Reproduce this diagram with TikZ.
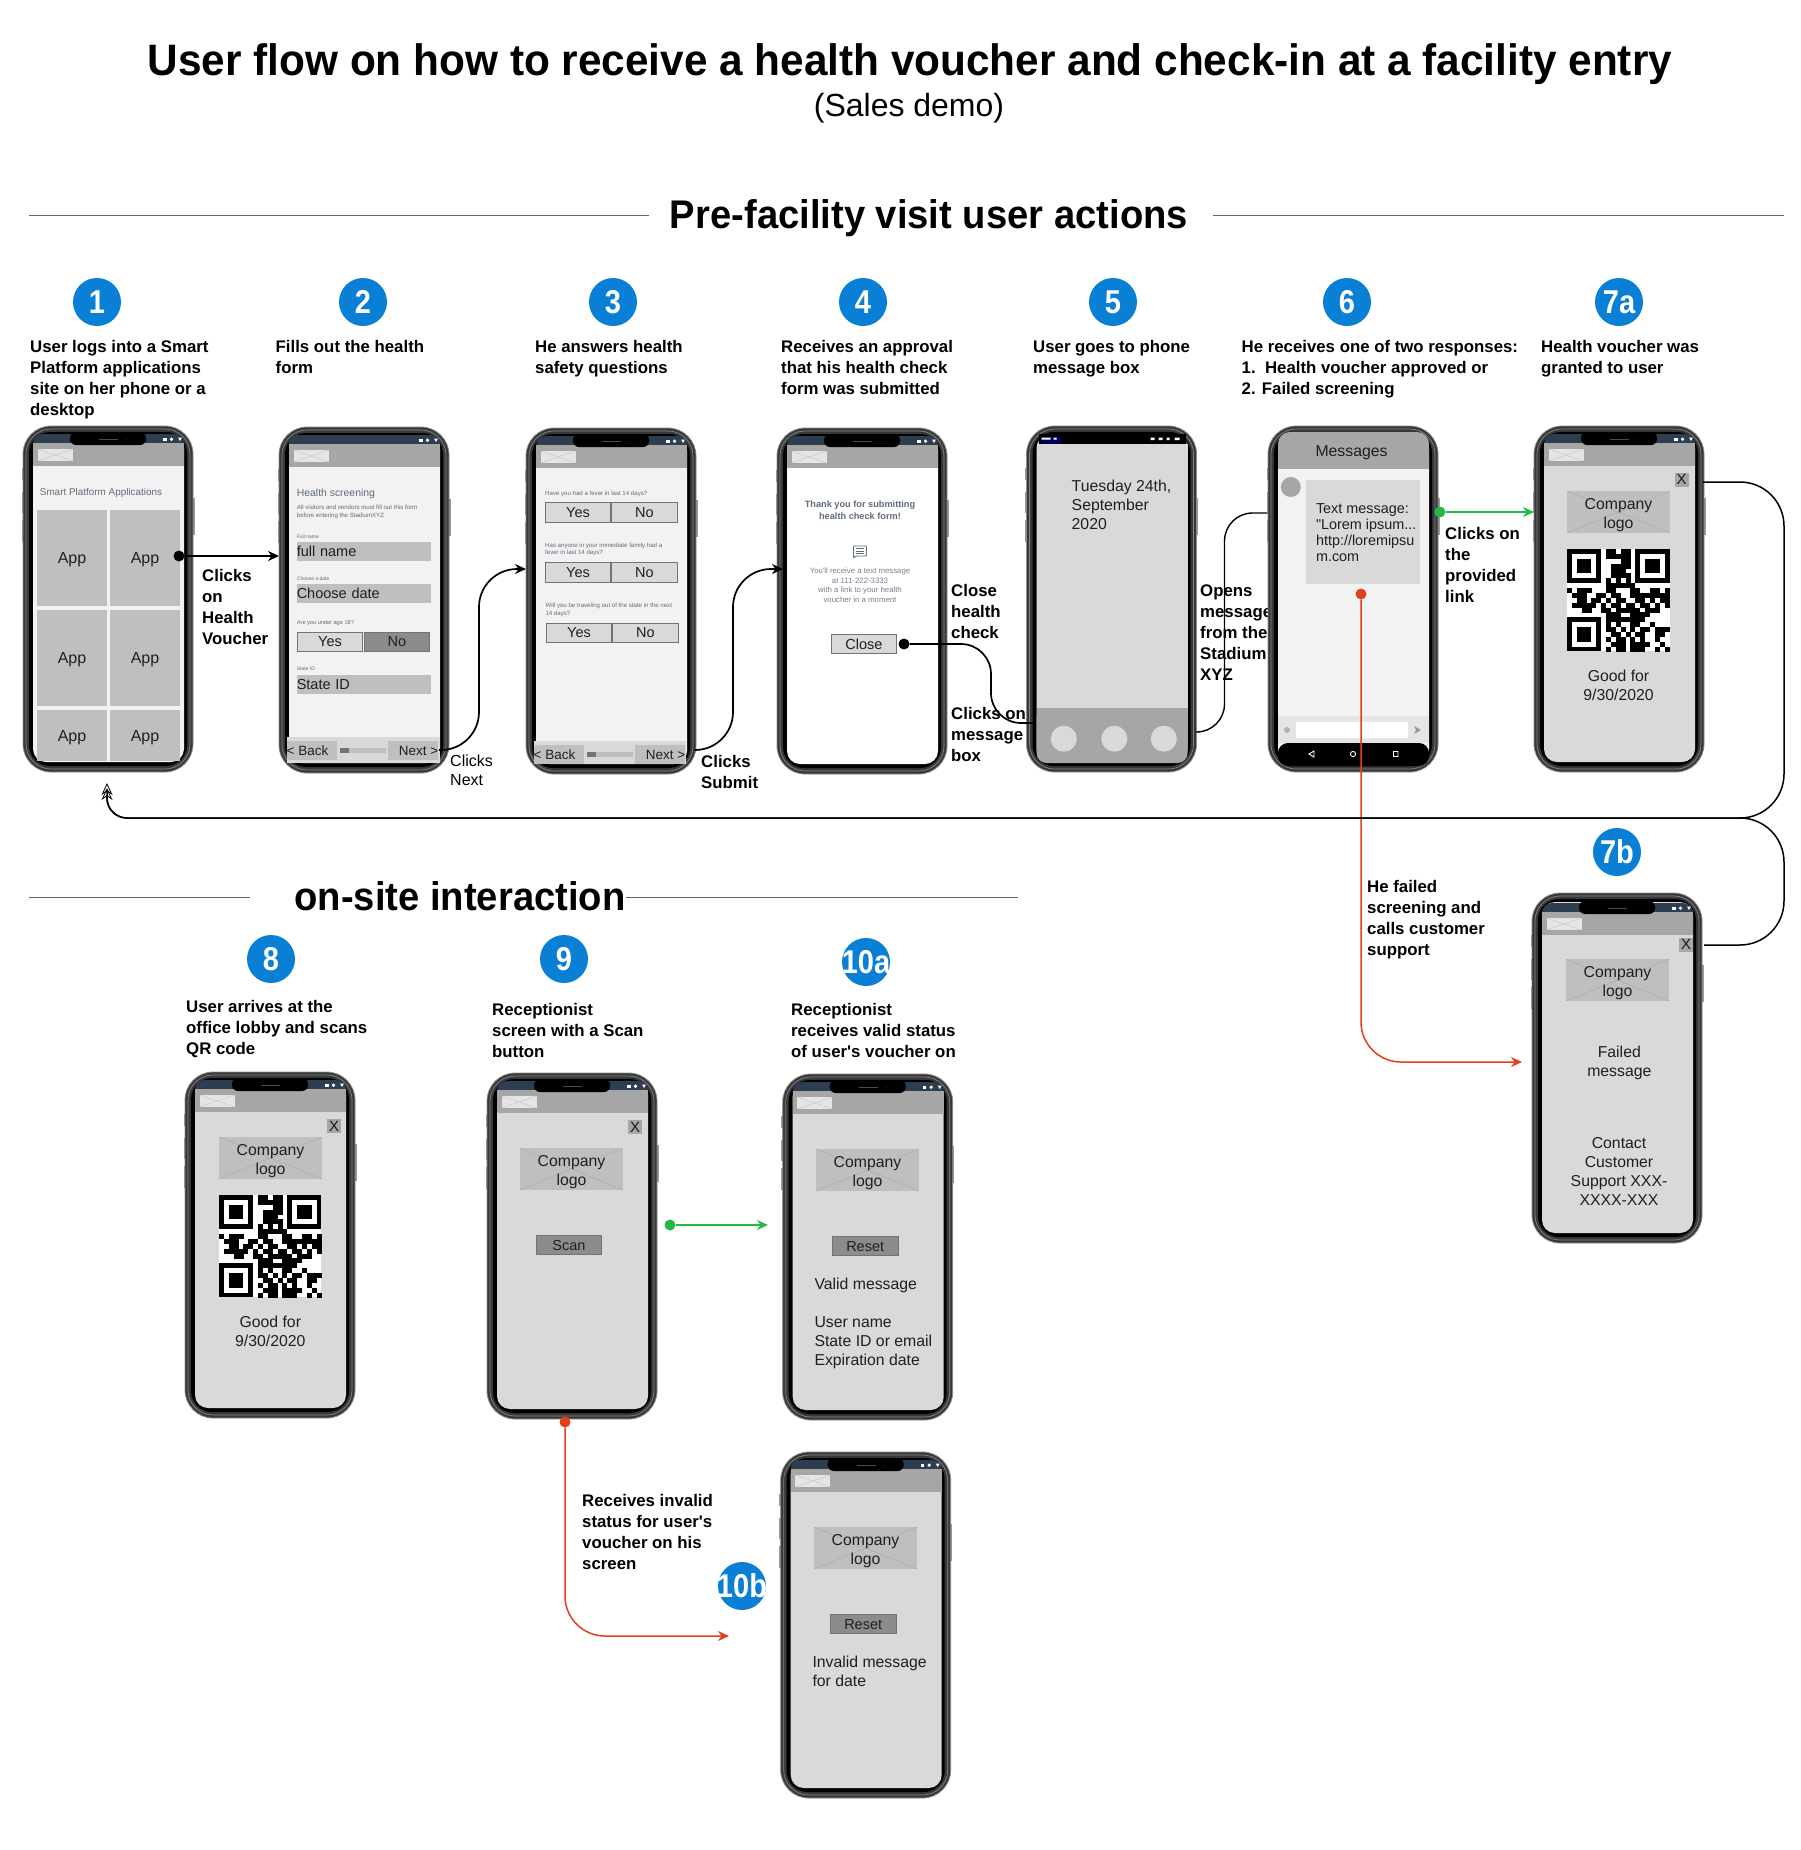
\documentclass[tikz,border=0pt]{standalone}
\usepackage{fontspec}
\setmainfont{Liberation Sans}
\usetikzlibrary{arrows.meta}
\definecolor{stepblue}{HTML}{0A7FD6}
\definecolor{hdrgray}{HTML}{A6A6A6}
\definecolor{scrgray}{HTML}{D9D9D9}
\definecolor{scrlight}{HTML}{F2F2F2}
\definecolor{tilegray}{HTML}{BFBFBF}
\definecolor{btndark}{HTML}{8C8C8C}
\definecolor{barblue}{HTML}{2D3E50}
\definecolor{slate}{HTML}{5F6B7A}
\definecolor{okgreen}{HTML}{1FBB45}
\definecolor{badred}{HTML}{E0401F}
\definecolor{ruleline}{HTML}{666666}
\tikzset{
  phonebody/.style={rectangle,rounded corners=28,draw=black!45,fill=black!78,line width=.8,minimum width=170,inner sep=0,outer sep=0},
  sidebtn/.style={fill=black!40},
  flowline/.style={line width=1.7,draw=black},
  flowdot/.style={circle,fill=#1,inner sep=0,minimum size=11},
  flowdot/.default=black,
  grnline/.style={line width=1.6,draw=okgreen},
  redline/.style={line width=1.5,draw=badred},
  stepdot/.style={circle,fill=stepblue,text=white,inner sep=0,minimum size=48,font=\fontsize{33}{33}\selectfont\bfseries},
  headtxt/.style={inner sep=0,xscale=.955,transform shape,font=\fontsize{40}{40}\selectfont\bfseries},
  lbl/.style={anchor=north west,align=left,inner sep=0,yshift=-2pt,font=\fontsize{16.8}{21}\selectfont\bfseries,execute at begin node={\strut}},
  scrtxt/.style={anchor=north,align=center,inner sep=0,yshift=-2.5pt,text=black!88,font=\fontsize{15.8}{19}\selectfont,execute at begin node={\strut}},
  scrleft/.style={scrtxt,anchor=north west,align=left},
  tiny/.style 2 args={anchor=north west,align=left,inner sep=0,yshift=-2pt,text=slate,font=\fontsize{#1}{#2}\selectfont,execute at begin node={\strut}},
  tile/.style={rectangle,fill=tilegray,inner sep=0,text depth=0pt,text=black!88,font=\fontsize{16}{19}\selectfont},
  field/.style={tile,minimum width=134.5,minimum height=19,align=left,text width=134.5,font=\fontsize{14.5}{17}\selectfont},
  ansbtn/.style={rectangle,draw=black!55,line width=.8,fill=#1,inner sep=0,text depth=0pt,minimum width=65.5,minimum height=19.5,text=black!88,font=\fontsize{14.5}{17}\selectfont},
  ansbtn/.default=scrgray,
  navbtn/.style={rectangle,fill=tilegray,inner sep=0,minimum width=50,minimum height=19,text=black!88,font=\fontsize{13.5}{17}\selectfont},
  closebox/.style={rectangle,fill=hdrgray,inner sep=0,minimum width=14,minimum height=14,text=black!90,font=\fontsize{15}{15}\selectfont},
  hdrimg/.style={rectangle,fill=black!10,inner sep=0,minimum width=35,minimum height=12,
    path picture={\draw[black!22,line width=.5] (path picture bounding box.north west)--(path picture bounding box.south east) (path picture bounding box.south west)--(path picture bounding box.north east);}},
  logobox/.style={rectangle,fill=tilegray,inner sep=0,minimum width=103,minimum height=42,
    path picture={\draw[black!33,line width=.5] (path picture bounding box.north west)--(path picture bounding box.south east) (path picture bounding box.south west)--(path picture bounding box.north east);}},
}
% frame and screen of one phone, coordinates are relative to its scope
\newcommand{\phoneframe}[3][0]{%
  \foreach \by/\bh in {42/12,66/21,94/22} \fill[sidebtn] (-1.5,\by) rectangle ++(3,\bh);
  \fill[sidebtn] (168.5,72) rectangle (171.5,109);
  \node[phonebody,minimum height=346+#1] (#2) at (85,173+#1/2) {};
  \draw[black!48,line width=.7,rounded corners=25] (3,3) rectangle (167,343+#1);
  \fill[black,rounded corners=21] (6,6) rectangle (164,340+#1);
  \fill[#3,rounded corners=13] (10,9) rectangle (161,336+#1);
}
\newcommand{\statusicons}{%
  \fill[white] (140,11.5) rectangle ++(3.5,3.5);
  \fill[white] (148.5,13.2) circle (1.8);
  \fill[white] (155,11.5) -- (159,11.5) -- (157,15) -- cycle;
}
\newcommand{\hdrbar}[1]{%
  \fill[hdrgray] (10,17) rectangle (161,40);
  \node[hdrimg] (#1img) at (32,29) {};
}
\newcommand{\notchbar}[1]{%
  \fill[barblue,rounded corners=10] (10,8) rectangle (161,30);
  \hdrbar{#1}
  \fill[black,rounded corners=6] (47,6) rectangle (123,19);
  \draw[black!70,line width=1] (76,13) -- (95,13);
  \fill[blue!40!black] (103,13) circle (1.4);
  \statusicons
}
\newcommand{\logoblock}[2]{%
  \node[logobox] (#1) at (#2) {};
  \node[inner sep=0,align=center,yshift=-3pt,text=black!88,font=\fontsize{15.8}{19}\selectfont] (#1txt) at (#1) {Company\\logo};
}
\newcommand{\qrcode}[1]{%
  \begin{scope}[shift={(#1)},x=4.88pt,y=-4.88pt]
    \fill[white] (0,0) rectangle (21,21);
    \foreach \fx/\fy in {0/0,14/0,0/14} {
      \fill[black] (\fx,\fy) rectangle ++(7,7);
      \fill[white] (\fx+1,\fy+1) rectangle ++(5,5);
      \fill[black] (\fx+2,\fy+2) rectangle ++(3,3);
    }
    \foreach \ry/\cols in {0/{8,9,11,12},1/{8,9,10,11,12},2/{11,12},3/{9,10,11,12},4/{9,10,11},5/{9,10,11,12},6/{8,10,12},
      7/{8,9,10,11,12,13},8/{0,2,3,4,8,9,13,14,17,18,20},9/{1,2,3,6,7,9,10,13,14,15,16,17,18,19,20},
      10/{2,3,5,6,8,10,11,14,15,17,19,20},11/{1,2,3,4,5,7,9,10,12,13,15,16,18,20},12/{3,4,7,8,10,11,12,13,14,16,17,18},
      13/{8,9,10,13,14,15,16},14/{8,9,10,11,12,13,14,15},15/{8,10,13,14,17},16/{8,9,11,13,15,16,18,19,20},
      17/{9,10,12,14,15,18,19},18/{8,10,11,13,15,18},19/{9,10,11,13,14,15,16,19},20/{8,10,11,13,14,15,18,20}}
      \foreach \c in \cols \fill[black] (\c,\ry) rectangle ++(1.02,1.02);
  \end{scope}
}
\begin{document}
\begin{tikzpicture}[x=1pt,y=-1pt,>={Stealth[length=11pt,width=10pt]}]
\useasboundingbox (0,0) rectangle (1800,1850);
\fill[white] (0,0) rectangle (1800,1850);

\node[inner sep=0,xscale=.962,transform shape,font=\fontsize{44}{44}\selectfont\bfseries] (title) at (910,64.5) {User flow on how to receive a health voucher and check-in at a facility entry};
\node[inner sep=0,font=\fontsize{32}{32}\selectfont] (subtitle) at (909,108.5) {(Sales demo)};
\node[headtxt] (prehead) at (929,218) {Pre-facility visit user actions};
\node[headtxt] (sitehead) at (460,896) {on-site interaction};
\coordinate (preL) at (29,215);
\coordinate (preR) at (1784,215);
\coordinate (siteL) at (29,897);
\coordinate (siteR) at (1018,897);
\draw[ruleline,line width=1] (preL) -- (649,215) (1213,215) -- (preR);
\draw[ruleline,line width=1] (siteL) -- (250,897) (626,897) -- (siteR);

\foreach \n/\cx/\cy in {1/97/302,2/363/302,3/613/302,4/863/302,5/1113/302,6/1347/302,7a/1619/302,7b/1617/852,8/271/959,9/564/959,10a/866/962,10b/742/1586}
  \node[stepdot] (st\n) at (\cx,\cy) {\makebox[0pt]{\scalebox{.88}[1]{\n}}};

\node[lbl] (txt1) at (30,338.5) {User logs into a Smart\\Platform applications\\site on her phone or a\\desktop};
\node[lbl] (txt2) at (275.5,338.5) {Fills out the health\\form};
\node[lbl] (txt3) at (535,338.5) {He answers health\\safety questions};
\node[lbl] (txt4) at (781,338.5) {Receives an approval\\that his health check\\form was submitted};
\node[lbl] (txt5) at (1033,338.5) {User goes to phone\\message box};
\node[lbl] (txt6) at (1241.5,338.5) {He receives one of two responses:\\1.\ \ Health voucher approved or\\2. Failed screening};
\node[lbl] (txt7a) at (1541,338.5) {Health voucher was\\granted to user};
\node[lbl] (txt8) at (186,998.5) {User arrives at the\\office lobby and scans\\QR code};
\node[lbl] (txt9) at (492,1001.5) {Receptionist\\screen with a Scan\\button};
\node[lbl] (txt10a) at (791,1001.5) {Receptionist\\receives valid status\\of user\textquotesingle s voucher on};

\node[lbl] (actA) at (202,567.5) {Clicks\\on\\Health\\Voucher};
\node[lbl,font=\fontsize{16}{19}\selectfont] (actB) at (450,753) {Clicks\\Next};
\node[lbl] (actC) at (701,753.5) {Clicks\\Submit};
\node[lbl] (actD) at (951,582.5) {Close\\health\\check};
\node[lbl] (actE) at (951,705.5) {Clicks on\\message\\box};
\node[lbl] (actF) at (1200,582.5) {Opens\\message\\from the\\Stadium\\XYZ};
\node[lbl] (actG) at (1445,525.5) {Clicks on\\the\\provided\\link};
\node[lbl] (actH) at (1367,878.5) {He failed\\screening and\\calls customer\\support};
\node[lbl] (actI) at (582,1492.5) {Receives invalid\\status for user\textquotesingle s\\voucher on his\\screen};

% phone 1
\begin{scope}[shift={(23,426)}]
  \phoneframe{ph1}{scrlight}
  \notchbar{ph1}
  \node[tiny={9.9}{12}] (p1t) at (16.7,58.5) {Smart Platform Applications};
  \foreach \m/\cx/\cy/\h in {a/49/132/96,b/122/132/96,c/49/232/96,d/122/232/96,e/49/309.5/51,f/122/309.5/51}
    \node[tile,minimum width=70,minimum height=\h] (p1\m) at (\cx,\cy) {App};
\end{scope}

% phone 2
\begin{scope}[shift={(279,427)}]
  \phoneframe{ph2}{scrlight}
  \fill[barblue,rounded corners=8] (10,8) rectangle (161,30);
  \hdrbar{ph2}
  \statusicons
  \node[tiny={10.4}{12}] (p2a) at (17.7,58.5) {Health screening};
  \node[tiny={6.1}{7.7}] (p2b) at (17.7,76) {All visitors and vendors must fill out this form\\before entering the StadiumXYZ};
  \node[tiny={5}{6}] (p2c) at (17.7,105.5) {Full name};
  \node[field] (p2d) at (85,124.7) {full name};
  \node[tiny={5}{6}] (p2e) at (17.7,147.5) {Choose a date};
  \node[field] (p2f) at (85,166.5) {Choose date};
  \node[tiny={5.6}{7}] (p2g) at (17.7,190.5) {Are you under age 18?};
  \node[ansbtn] (p2h) at (51,215) {Yes};
  \node[ansbtn=btndark] (p2i) at (118,215) {No};
  \node[tiny={5}{6}] (p2j) at (17.7,237.5) {State ID};
  \node[field] (p2k) at (85,257.5) {State ID};
  \fill[scrgray] (8,310) rectangle (161,336);
  \node[navbtn] (p2back) at (33,323.5) {\hspace{-9pt}< Back};
  \node[navbtn] (p2next) at (134,323.5) {\hspace{11pt}Next >};
  \fill[tilegray] (61,321) rectangle (107,326);
  \fill[black!55] (61,321) rectangle (70,326);
\end{scope}

% phone 3
\begin{scope}[shift={(526,428)}]
  \phoneframe{ph3}{scrlight}
  \notchbar{ph3}
  \node[tiny={6.1}{7.7}] (p3a) at (19,59.5) {Have you had a fever in last 14 days?};
  \node[ansbtn] (p3b) at (52,84.2) {Yes};
  \node[ansbtn] (p3c) at (118.3,84.2) {No};
  \node[tiny={6.1}{7.7}] (p3d) at (19,112.5) {Has anyone in your immediate family had a\\fever in last 14 days?};
  \node[ansbtn] (p3e) at (52,144.2) {Yes};
  \node[ansbtn] (p3f) at (118.3,144.2) {No};
  \node[tiny={6.1}{7.7}] (p3g) at (19.3,173) {Will you be traveling out of the state in the next\\14 days?};
  \node[ansbtn] (p3h) at (53,205) {Yes};
  \node[ansbtn] (p3i) at (119.3,205) {No};
  \fill[scrgray] (8,313) rectangle (160,336);
  \node[navbtn] (p3back) at (33,326.5) {\hspace{-9pt}< Back};
  \node[navbtn] (p3next) at (134,326.5) {\hspace{11pt}Next >};
  \fill[tilegray] (61,324) rectangle (107,329);
  \fill[black!55] (61,324) rectangle (70,329);
\end{scope}

% phone 4
\begin{scope}[shift={(777,428)}]
  \phoneframe{ph4}{white}
  \notchbar{ph4}
  \node[tiny={9.2}{11.5},anchor=north,align=center,font=\fontsize{9.2}{11.5}\selectfont\bfseries] (p4a) at (83,71) {Thank you for submitting\\health check form!};
  \begin{scope}[draw=slate,line width=.9]
    \draw[rounded corners=.8] (76.5,118) -- (89.5,118) -- (89.5,128) -- (79,128) -- (76.5,130) -- cycle;
    \draw (79,120.8) -- (87,120.8) (79,123) -- (87,123) (79,125.2) -- (87,125.2);
  \end{scope}
  \node[tiny={7.8}{9.7},anchor=north,align=center,text=slate!85] (p4b) at (83,137.5) {You\textquotesingle ll receive a text message\\at 111-222-3333\\with a link to your health\\voucher in a moment};
  \node[ansbtn,minimum width=65.4,minimum height=19.4] (p4c) at (87,216) {Close};
\end{scope}

% phone 5
\begin{scope}[shift={(1026.5,426)}]
  \phoneframe{ph5}{scrgray}
  \fill[black] (12,8) rectangle (159,18);
  \fill[blue!35!black] (14,11) rectangle (34,18);
  \fill[white] (15,11.5) rectangle (24,13.5) (27,11.5) rectangle (30,13.5) (124,11.5) rectangle (128,14) (132,11.5) rectangle (136,14) (140,11.5) rectangle (143,14) (148,11.5) rectangle (153,14);
  \fill[scrgray] (10,18) rectangle (161,282);
  \fill[hdrgray,rounded corners=10] (10,282) rectangle (161,337);
  \fill[hdrgray] (10,282) rectangle (161,300);
  \node[scrleft] (p5a) at (45,51.5) {Tuesday 24th,\\September\\2020};
  \foreach \m/\cx in {a/37.3,b/87.8,c/137.3}
    \node[circle,fill=scrgray,inner sep=0,minimum size=26] (p5c\m) at (\cx,312.7) {};
\end{scope}

\coordinate (homeOut) at (1196,732);
\coordinate (msgIn) at (1268,513);
\draw[flowline,line width=1.4,rounded corners=28] (homeOut) -- ++(28.5,0) |- (msgIn);

% phone 6
\begin{scope}[shift={(1268,426)}]
  \phoneframe{ph6}{scrlight}
  \fill[hdrgray,rounded corners=12] (10,6) rectangle (161,30);
  \fill[hdrgray] (10,17) rectangle (161,43);
  \node[scrtxt] (p6a) at (83.5,14.5) {Messages};
  \fill[hdrgray] (22.8,61) circle (10);
  \fill[scrgray] (38,54) rectangle (152,158);
  \node[scrleft,font=\fontsize{14.4}{16}\selectfont] (p6b) at (47.8,75) {Text message:\\\textquotedbl Lorem ipsum...\\http://loremipsu\\m.com};
  \fill[black!10] (10,290) rectangle (161,317);
  \fill[white,rounded corners=1] (28,296) rectangle (140,312);
  \fill[black!30] (19,304) circle (3);
  \fill[slate!70] (146,300) -- (153,304) -- (146,308) -- (148,304) -- cycle;
  \fill[black,rounded corners=10] (10,317) rectangle (161,340);
  \draw[white,line width=.9] (46,325) -- (41,328) -- (46,331) -- cycle (85,328) circle (2.6) (125.5,325.5) rectangle ++(4.5,5);
\end{scope}

% phone 7a
\begin{scope}[shift={(1534,426)}]
  \phoneframe{ph7a}{scrgray}
  \notchbar{ph7a}
  \node[closebox] (p7x) at (147.5,53.5) {X};
  \logoblock{p7l}{84.5,86}
  \qrcode{33,123}
  \node[scrtxt] (p7g) at (84.5,241.5) {Good for\\9/30/2020};
\end{scope}

% phone 7b
\begin{scope}[shift={(1532,893)}]
  \phoneframe[4]{ph7b}{scrgray}
  \begin{scope}[shift={(0,2)}]
    \notchbar{ph7b}
    \node[closebox] (p8x) at (154,49.5) {X};
    \logoblock{p8l}{85.5,85}
    \node[scrtxt] (p8a) at (87.3,148.5) {Failed\\message};
    \node[scrtxt] (p8b) at (87,240) {Contact\\Customer\\Support XXX-\\XXXX-XXX};
  \end{scope}
\end{scope}

% phone 8
\begin{scope}[shift={(185,1072)}]
  \phoneframe{ph8}{scrgray}
  \notchbar{ph8}
  \node[closebox] (p9x) at (149,54) {X};
  \logoblock{p9l}{85.5,86}
  \qrcode{34,123}
  \node[scrtxt] (p9g) at (85.3,241.7) {Good for\\9/30/2020};
\end{scope}

% phone 9
\begin{scope}[shift={(487,1073)}]
  \phoneframe{ph9}{scrgray}
  \notchbar{ph9}
  \node[closebox] (pAx) at (148,54) {X};
  \logoblock{pAl}{84.5,96}
  \node[ansbtn=btndark,minimum height=19.5] (pAs) at (82,172) {Scan};
\end{scope}

% phone 10a
\begin{scope}[shift={(782.7,1074)}]
  \phoneframe{ph10a}{scrgray}
  \notchbar{ph10a}
  \logoblock{pBl}{84.8,96}
  \node[ansbtn=btndark] (pBr) at (82.5,172) {Reset};
  \node[scrleft] (pBa) at (31.6,199.2) {Valid message};
  \node[scrleft] (pBb) at (31.6,239.7) {User name\\State ID or email\\Expiration date};
\end{scope}

% phone 10b
\begin{scope}[shift={(780.7,1452)}]
  \phoneframe{ph10b}{scrgray}
  \notchbar{ph10b}
  \logoblock{pCl}{84.8,96}
  \node[ansbtn=btndark] (pCr) at (82.5,172) {Reset};
  \node[scrleft] (pCa) at (31.6,201.7) {Invalid message\\for date};
\end{scope}

% connectors
\node[flowdot] (appDot) at (179,556) {};
\coordinate (formIn) at (279,556);
\draw[flowline,->] (appDot) -- (formIn);
\coordinate (nextOut) at (439,750);
\coordinate (quizIn) at (526,569);
\draw[flowline,->,rounded corners=38] (nextOut) -- ++(40,0) |- (quizIn);
\coordinate (submitOut) at (695,750);
\coordinate (ackIn) at (783,569);
\draw[flowline,->,rounded corners=38] (submitOut) -- ++(38,0) |- (ackIn);
\node[flowdot] (closeDot) at (904,644) {};
\coordinate (homeIn) at (1034,723);
\draw[flowline,rounded corners=30] (closeDot) -- ++(87,0) |- (homeIn);

\node[flowdot=okgreen] (linkDot) at (1440,512) {};
\coordinate (vchIn) at (1534,512);
\draw[grnline,->] (linkDot) -- (vchIn);
\node[flowdot=okgreen] (scanDot) at (670,1225) {};
\coordinate (validIn) at (768,1225);
\draw[grnline,->] (scanDot) -- (validIn);

\node[flowdot=badred] (failDot) at (1361,594) {};
\coordinate (failIn) at (1522,1062);
\draw[redline,->,rounded corners=40] (failDot) |- (failIn);
\node[flowdot=badred] (invDot) at (565,1422) {};
\coordinate (invIn) at (729,1636);
\draw[redline,->,rounded corners=40] (invDot) |- (invIn);

\coordinate (vchOut) at (1703,482);
\coordinate (failOut) at (1704,945);
\coordinate (retIn) at (107,783);
\tikzset{retarrow/.style={flowline,line width=1.5,-{Stealth[open,length=12pt,width=11pt,line width=.8pt]}}}
\draw[retarrow] (vchOut) [rounded corners=44] -- ++(81,0) -- (1784,818) [rounded corners=20] -- (107,818) -- (retIn);
\draw[retarrow,shorten >=5pt] (failOut) [rounded corners=44] -- ++(80,0) -- (1784,818) [rounded corners=20] -- (107,818) -- (retIn);
\end{tikzpicture}
\end{document}
